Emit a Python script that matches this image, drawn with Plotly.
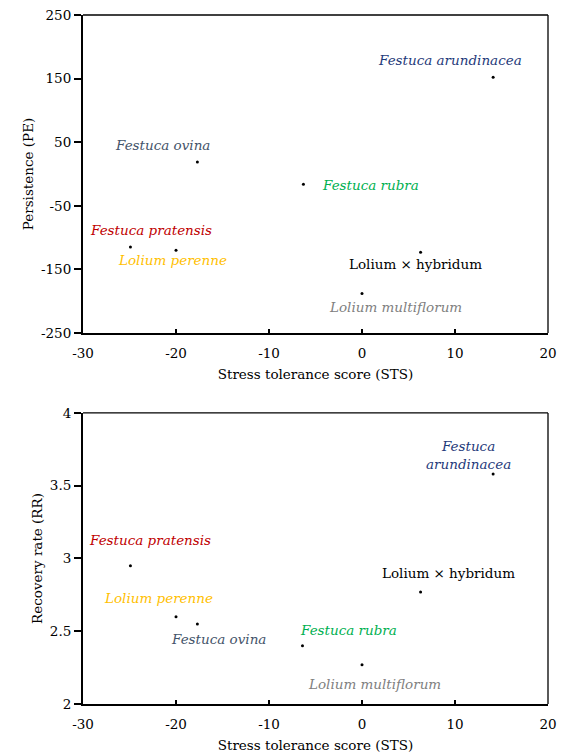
import plotly.graph_objects as go

species = ["Festuca arundinacea", "Festuca ovina", "Festuca rubra", "Festuca pratensis",
           "Lolium perenne", "Lolium × hybridum", "Lolium multiflorum"]
labels_top = ["<i>Festuca arundinacea</i>", "<i>Festuca ovina</i>", "<i>Festuca rubra</i>",
              "<i>Festuca pratensis</i>", "<i>Lolium perenne</i>", "Lolium × hybridum",
              "<i>Lolium multiflorum</i>"]
labels_bot = ["<i>Festuca</i><br><i>arundinacea</i>", "<i>Festuca ovina</i>", "<i>Festuca rubra</i>",
              "<i>Festuca pratensis</i>", "<i>Lolium perenne</i>", "Lolium × hybridum",
              "<i>Lolium multiflorum</i>"]
colors = ["#1F3A7A", "#44546A", "#00B050", "#C00000", "#FFC000", "#000000", "#808080"]

sts = [14.1, -17.7, -6.3, -24.9, -20.0, 6.3, 0.0]
pe = [152, 19, -16, -115, -120, -123, -188]
sts_rr = [14.1, -17.7, -6.4, -24.9, -20.0, 6.3, 0.0]
rr = [3.58, 2.55, 2.40, 2.95, 2.60, 2.77, 2.27]

# label anchor positions (data coordinates)
lab_top_x = [9.5, -21.4, 0.9, -22.7, -20.4, 5.7, 3.6]
lab_top_y = [179, 45, -18, -88, -135, -142, -209]
lab_bot_x = [11.4, -15.4, -1.4, -22.75, -21.9, 9.35, 1.3]
lab_bot_y = [3.71, 2.45, 2.51, 3.13, 2.73, 2.90, 2.14]

x_ticks = [-30, -20, -10, 0, 10, 20]
x_ticktext = ["-30", "-20", "-10", "0", "10", "20"]
pe_ticks = [-250, -150, -50, 50, 150, 250]
pe_ticktext = ["-250", "-150", "-50", "50", "150", "250"]
rr_ticks = [2, 2.5, 3, 3.5, 4]
rr_ticktext = ["2", "2.5", "3", "3.5", "4"]

FONT = "DejaVu Serif"
FS = 13.5

fig = go.Figure()
fig.add_trace(go.Scatter(x=sts, y=pe, mode="markers", marker=dict(color="black", size=3),
                         xaxis="x", yaxis="y", showlegend=False, hoverinfo="skip"))
fig.add_trace(go.Scatter(x=sts_rr, y=rr, mode="markers", marker=dict(color="black", size=3),
                         xaxis="x2", yaxis="y2", showlegend=False, hoverinfo="skip"))

ann = []
for t, c, x, y in zip(labels_top, colors, lab_top_x, lab_top_y):
    ann.append(dict(x=x, y=y, xref="x", yref="y", text=t, showarrow=False,
                    font=dict(family=FONT, size=FS, color=c), xanchor="center", yanchor="middle"))
for t, c, x, y in zip(labels_bot, colors, lab_bot_x, lab_bot_y):
    ann.append(dict(x=x, y=y, xref="x2", yref="y2", text=t, showarrow=False,
                    font=dict(family=FONT, size=FS, color=c), xanchor="center", yanchor="middle"))

xaxis_common = dict(range=[-30, 20], tickvals=x_ticks, ticktext=x_ticktext, showline=True,
                    linecolor="black", linewidth=2, ticks="inside", ticklen=4, tickwidth=1.5,
                    tickcolor="black", showgrid=False, zeroline=False, automargin=False,
                    ticklabelstandoff=7, ticklabeloverflow="allow",
                    tickfont=dict(family=FONT, size=FS, color="black"))
yaxis_common = dict(showline=True, linecolor="black", linewidth=2, ticks="outside", ticklen=7,
                    tickwidth=1.5, tickcolor="black", showgrid=False, zeroline=False, automargin=False,
                    ticklabeloverflow="allow",
                    tickfont=dict(family=FONT, size=FS, color="black"))

shapes = []
for xr, yr in [("x", "y"), ("x2", "y2")]:
    shapes.append(dict(type="line", xref=xr + " domain", yref=yr + " domain", x0=0, x1=1, y0=1, y1=1,
                       line=dict(color="black", width=1.3)))
    shapes.append(dict(type="line", xref=xr + " domain", yref=yr + " domain", x0=1, x1=1, y0=0, y1=1,
                       line=dict(color="black", width=1.3)))

fig.update_layout(
    width=563, height=747,
    margin=dict(l=75, r=23, t=7, b=51),
    paper_bgcolor="white", plot_bgcolor="white",
    font=dict(family=FONT, size=FS, color="black"),
    xaxis=dict(**xaxis_common, domain=[0, 1], anchor="y",
               title=dict(text="Stress tolerance score (STS)", font=dict(family=FONT, size=FS), standoff=9)),
    yaxis=dict(**yaxis_common, domain=[0.5385, 1], anchor="x", range=[-250, 250],
               tickvals=pe_ticks, ticktext=pe_ticktext,
               title=dict(text="Persistence (PE)", font=dict(family=FONT, size=FS), standoff=4)),
    xaxis2=dict(**xaxis_common, domain=[0, 1], anchor="y2",
                title=dict(text="Stress tolerance score (STS)", font=dict(family=FONT, size=FS), standoff=9)),
    yaxis2=dict(**yaxis_common, domain=[0, 0.4224], anchor="x2", range=[2, 4],
                tickvals=rr_ticks, ticktext=rr_ticktext,
                title=dict(text="Recovery rate (RR)", font=dict(family=FONT, size=FS), standoff=4)),
    annotations=ann,
    shapes=shapes,
)

fig.write_html("out.html")
